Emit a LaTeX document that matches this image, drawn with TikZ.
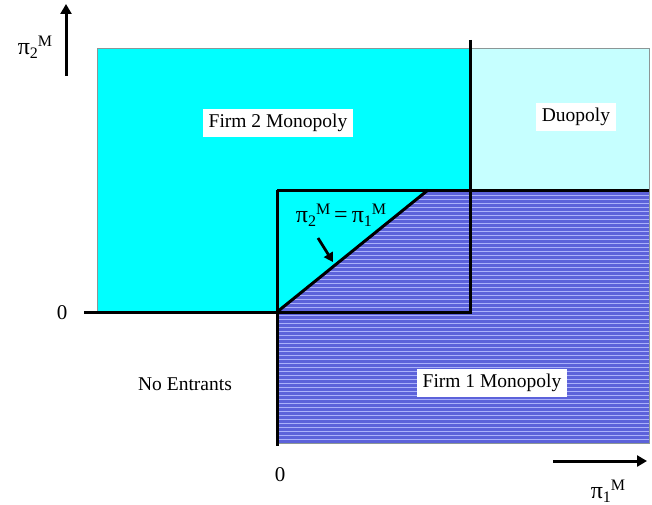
\documentclass[tikz,border=0pt]{standalone}
\usepackage{fontspec}
\setmainfont{Liberation Serif}
\usetikzlibrary{arrows.meta}
\definecolor{cyanfill}{RGB}{0,255,255}
\definecolor{duofill}{RGB}{198,255,255}
\definecolor{stripebase}{RGB}{92,98,218}
\definecolor{stripelite}{RGB}{170,176,250}
\definecolor{edgegray}{RGB}{140,150,150}
\tikzset{
  region/.style={draw=edgegray, line width=0.8pt},
  axisline/.style={line width=3pt, black},
  lbl/.style={fill=white, inner xsep=6pt, inner ysep=5pt, font=\fontsize{19.5}{22}\selectfont},
  plainlbl/.style={inner sep=1pt, font=\fontsize{19.5}{22}\selectfont},
  axarrow/.style={line width=3pt, -{Triangle[length=10pt,width=11pt]}},
}
\newcommand{\pisym}[1]{\fontsize{24}{26}\selectfont π\raisebox{-0.35ex}{\fontsize{16}{18}\selectfont #1}\raisebox{0.75ex}{\fontsize{16}{18}\selectfont M}}
\begin{document}
\begin{tikzpicture}[x=1pt,y=-1pt]
\useasboundingbox (0,0) rectangle (652,505);
% regions
\fill[cyanfill] (97,48) rectangle (470,312);
\draw[region] (97,48) rectangle (470,312);
\fill[duofill] (470,48) rectangle (649,190);
\draw[region] (470,48) rectangle (649,190);
\begin{scope}
  \clip (277,312) -- (428,190) -- (649,190) -- (649,443) -- (277,443) -- cycle;
  \fill[stripebase] (270,185) rectangle (655,450);
  \foreach \k in {0,...,65} {
    \draw[stripelite, line width=1.5pt] (270,{191.5+4*\k}) -- (655,{191.5+4*\k});
  }
\end{scope}
\draw[region] (649,190) -- (649,443) -- (277,443);
% coordinates
\coordinate (vtop) at (470,40);
\coordinate (vbot) at (470,312);
\coordinate (hl) at (85,312);
\coordinate (o) at (277,312);
\coordinate (tl) at (277,190);
\coordinate (tr) at (649,190);
\coordinate (lb) at (277,446);
\coordinate (dg) at (428,190);
% black lines
\draw[axisline] (vtop) -- (vbot);
\draw[axisline, line cap=rect] (hl) -- (vbot);
\draw[axisline] (tl) -- (tr);
\draw[axisline] (tl) -- (lb);
\draw[axisline] (o) -- (dg);
% labels
\node[lbl] (f2) at (278,123) {Firm 2 Monopoly};
\node[lbl] (duo) at (576,117) {Duopoly};
\node[lbl] (f1) at (492,383) {Firm 1 Monopoly};
\node[plainlbl] (ne) at (185,384) {No Entrants};
\node[plainlbl] (z1) at (62,313) {\fontsize{21}{24}\selectfont 0};
\node[plainlbl] (z2) at (280,475) {\fontsize{21}{24}\selectfont 0};
\node[inner sep=0pt] (eq) at (341,215) {\pisym{2}\,=\,\pisym{1}};
\coordinate (eqa) at (318,238);
\coordinate (eqb) at (333,262);
\draw[line width=2.8pt, -{Triangle[length=9pt,width=10pt]}] (eqa) -- (eqb);
% axes
\node[inner sep=0pt] (p2) at (35,47) {\pisym{2}};
\coordinate (ya) at (66,76);
\coordinate (yb) at (66,4);
\draw[axarrow] (ya) -- (yb);
\node[inner sep=0pt] (p1) at (608,491) {\pisym{1}};
\coordinate (xa) at (553,461);
\coordinate (xb) at (647,461);
\draw[axarrow] (xa) -- (xb);
\end{tikzpicture}
\end{document}
